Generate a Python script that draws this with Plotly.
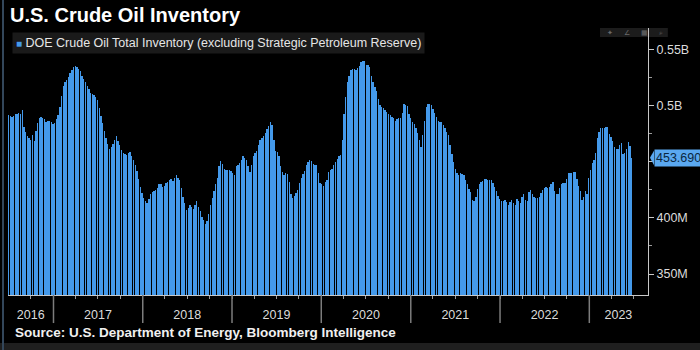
import plotly.graph_objects as go
import pandas as pd

# Weekly DOE crude oil inventory (excl. SPR), millions of barrels, week ending Fridays
inv_2016 = [492, 491, 490, 491, 493, 493, 494, 493, 496, 481, 477, 473, 471, 470, 474, 469,
            478, 485, 489, 490, 489, 488, 486, 487, 487, 486, 484]
inv_2017 = [485, 488, 492, 499, 509, 518, 521, 523, 526, 529, 532, 535, 535.5, 535, 533, 531,
            527, 524, 521, 518, 515, 512, 511, 510, 508, 505, 498, 491, 485, 478, 471, 466,
            462, 463, 466, 470, 473, 469, 465, 461, 458, 457, 456, 458, 459, 455, 452, 447,
            442, 435, 428, 422]
inv_2018 = [418, 415, 413, 417, 421, 423, 424, 425, 427, 430, 430, 428, 429, 431, 432, 434,
            435, 433, 436, 438, 436, 434, 427, 419, 413, 407, 409, 412, 410, 408, 412, 415,
            410, 406, 401, 398, 395, 397, 404, 412, 418, 424, 430, 436, 446, 451, 448, 444,
            443, 443, 443, 442]
inv_2019 = [440, 438, 446, 447, 449, 452, 455, 454, 452, 446, 441, 447, 455, 458, 460, 465,
            470, 471, 473, 476, 479, 482, 486, 483, 470, 460, 459, 455, 446, 441, 438, 440,
            439, 432, 421, 418, 420, 422, 425, 431, 436, 439, 442, 447, 450, 452, 451, 448,
            447, 447, 440, 431]
inv_2020 = [430, 429, 432, 434, 441, 443, 444, 447, 450, 453, 455, 456, 470, 493, 508, 521,
            527, 532, 533, 533, 532, 534, 536, 539, 540, 540.5, 537, 536.5, 535, 527, 521, 517,
            513, 506, 501, 499, 498, 496, 495, 493, 492, 490, 489, 487, 488, 489, 489, 494,
            502, 501, 500, 493]
inv_2021 = [489, 486, 484, 480, 476, 470, 463, 474, 487, 499, 502, 502, 501, 497, 494, 490,
            487, 486, 486, 483, 480, 477, 474, 465, 457, 450, 444, 440, 438, 440, 439, 438,
            434, 430, 426, 423, 416, 415, 419, 426, 430, 432, 433, 435, 435, 434, 434, 434,
            431, 428, 424, 420, 417]
inv_2022 = [415, 415, 416, 414, 412, 414, 416, 413, 412, 417, 415, 413, 419, 421, 416, 415,
            423, 425, 421, 419, 418, 418, 419, 422, 425, 427, 428, 427, 428, 430, 432, 424,
            421, 421, 427, 430, 431, 431, 435, 440, 440, 440, 441, 441, 435, 429, 424, 416,
            419, 424, 421, 436]
inv_2023 = [443, 449, 452, 458, 471, 477, 480, 480, 480, 481, 481.5, 475, 472, 469, 463, 462,
            462, 465, 467, 457, 458, 462, 468, 464, 453.69]

values = inv_2016 + inv_2017 + inv_2018 + inv_2019 + inv_2020 + inv_2021 + inv_2022 + inv_2023
dates = pd.date_range("2016-07-01", periods=len(values), freq="7D")
last_value = values[-1]

year_labels = ["2016", "2017", "2018", "2019", "2020", "2021", "2022", "2023"]
year_label_pos = ["2016-09-30", "2017-07-02", "2018-07-02", "2019-07-02", "2020-07-02",
                  "2021-07-02", "2022-07-02", "2023-04-30"]
year_bounds = ["2017-01-01", "2018-01-01", "2019-01-01", "2020-01-01", "2021-01-01",
               "2022-01-01", "2023-01-01"]
quarter_ticks = [d.strftime("%Y-%m-%d") for d in pd.date_range("2016-10-01", "2023-07-01", freq="QS")]
y_tickvals = [350, 400, 450, 500, 550]
y_ticktext = ["350M", "400M", "450M", "0.5B", "0.55B"]
y_minor = [375, 425, 475, 525]

title_text = "U.S. Crude Oil Inventory"
legend_text = "DOE Crude Oil Total Inventory (excluding Strategic Petroleum Reserve)"
source_text = "Source: U.S. Department of Energy, Bloomberg Intelligence"

BAR = "#4499ea"
BAR_FILL = "rgba(68,153,234,0.999)"
AXIS = "#c8c8c8"
TXT = "#dcdcdc"
FONT = "Liberation Sans"

fig = go.Figure()
fig.add_trace(go.Bar(x=dates, y=values,
                     marker=dict(color=BAR_FILL, line=dict(width=0)),
                     showlegend=False, hoverinfo="skip"))

fig.update_layout(
    width=700, height=350,
    margin=dict(l=8, r=52, t=28, b=55, pad=0),
    paper_bgcolor="#000000", plot_bgcolor="#000000",
    bargap=0.22,
    showlegend=False,
    font=dict(family=FONT, color=TXT),
    xaxis=dict(
        type="date", range=["2016-06-29", "2023-08-29"],
        tickmode="array", tickvals=year_label_pos, ticktext=year_labels,
        ticks="outside", ticklen=8, tickcolor="rgba(0,0,0,0)",
        tickfont=dict(family=FONT, size=12.5, color=TXT),
        showgrid=False, zeroline=False, showline=True, linecolor=AXIS, linewidth=1,
        minor=dict(tickmode="array", tickvals=quarter_ticks, ticks="outside",
                   ticklen=3, tickcolor="#9a9a9a", tickwidth=1, showgrid=False),
        fixedrange=True,
    ),
    yaxis=dict(
        side="right", range=[331.25, 569.6],
        tickmode="array", tickvals=y_tickvals, ticktext=y_ticktext,
        ticks="outside", ticklen=5, tickcolor=AXIS, tickwidth=1,
        tickfont=dict(family=FONT, size=12.5, color=TXT),
        showgrid=False, zeroline=False, showline=True, linecolor=AXIS, linewidth=1,
        minor=dict(tickmode="array", tickvals=y_minor, ticks="outside",
                   ticklen=3, tickcolor="#9a9a9a", showgrid=False),
        fixedrange=True,
    ),
)

shapes = []
# year separators below the axis
for b in year_bounds:
    shapes.append(dict(type="line", xref="x", yref="paper", x0=b, x1=b, y0=0, y1=-0.105,
                       line=dict(color="#7c7c7c", width=1.5)))
# bottom strip
shapes.append(dict(type="rect", xref="paper", yref="paper", x0=-0.02, x1=1.1, y0=-0.215, y1=-0.18,
                   fillcolor="#1f1f1f", line=dict(width=0), layer="below"))
# left frame line
shapes.append(dict(type="line", xref="paper", yref="paper", x0=-0.0078, x1=-0.0078, y0=-0.215, y1=1.11,
                   line=dict(color="#33475b", width=2)))
# toolbar box
shapes.append(dict(type="rect", xref="paper", yref="paper", x0=0.925, x1=1.031, y0=0.966, y1=1.0,
                   fillcolor="#1c1c1c", line=dict(width=0), layer="below"))
# badge pointer
shapes.append(dict(type="path", xref="paper", yref="y",
                   path=f"M 1.0031 {last_value} L 1.0095 {last_value + 6.6} L 1.0095 {last_value - 6.6} Z",
                   fillcolor="#5aa8f0", line=dict(width=0)))
fig.update_layout(shapes=shapes)

annotations = [
    dict(text=f"<b>{title_text}</b>", xref="paper", yref="paper", x=0.0, y=1.049,
         xanchor="left", yanchor="middle", showarrow=False,
         font=dict(family=FONT, size=20, color="#ffffff")),
    dict(text=f"<span style='font-size:10px;color:{BAR}'>■</span> {legend_text}",
         xref="paper", yref="paper", x=0.0063, y=0.944, xanchor="left", yanchor="middle",
         showarrow=False, bgcolor="#1a1a1a", borderpad=3,
         font=dict(family=FONT, size=12.5, color="#e6e6e6")),
    dict(text=f"<b>{source_text}</b>", xref="paper", yref="paper", x=0.0078, y=-0.142,
         xanchor="left", yanchor="middle", showarrow=False,
         font=dict(family=FONT, size=13.5, color="#f0f0f0")),
    dict(text=f"{last_value:.3f}M", xref="paper", yref="y", x=1.0094, y=last_value,
         xanchor="left", yanchor="middle", showarrow=False, bgcolor="#5aa8f0", borderpad=1,
         font=dict(family=FONT, size=12.5, color="#0b2740")),
]
for i, g in enumerate(["✦", "∠", "▦", "⌕"]):
    annotations.append(dict(text=g, xref="paper", yref="paper", x=0.94 + i * 0.027, y=0.983,
                            xanchor="center", yanchor="middle", showarrow=False,
                            font=dict(family="DejaVu Sans", size=7, color="#6a6a6a")))
fig.update_layout(annotations=annotations)

crisp_js = ("document.querySelectorAll('.barlayer').forEach(function(g){"
            "g.style.shapeRendering='crispEdges';});")
fig.write_html("out.html", config={"displayModeBar": False}, post_script=crisp_js)
